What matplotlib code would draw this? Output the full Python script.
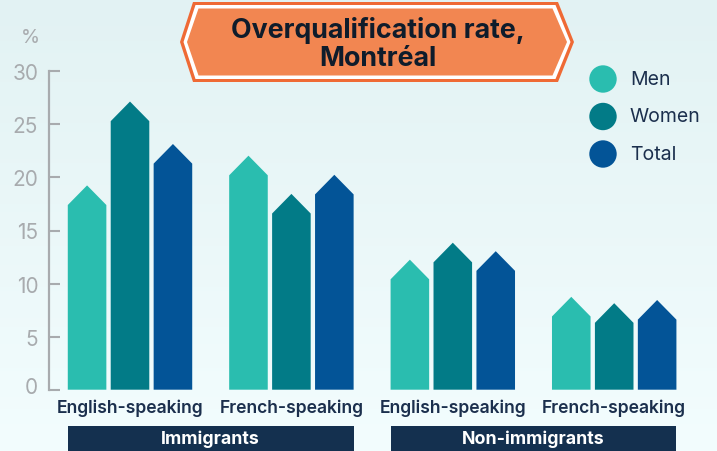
import numpy as np
import matplotlib
matplotlib.use("Agg")
import matplotlib.pyplot as plt
import matplotlib.transforms as mtransforms
from matplotlib.patches import Polygon, Circle, Rectangle
from matplotlib.colors import LinearSegmentedColormap

plt.rcParams['font.family'] = ['Inter', 'DejaVu Sans']

# data (bar body height, the arrow tip sits on top)
groups = ['English-speaking', 'French-speaking', 'English-speaking', 'French-speaking']
status = ['Immigrants', 'Non-immigrants']
series = ['Men', 'Women', 'Total']
men = [17.4, 20.2, 10.4, 6.9]
women = [25.3, 16.6, 12.0, 6.3]
total = [21.3, 18.4, 11.2, 6.6]
yticks = [0, 5, 10, 15, 20, 25, 30]
title = 'Overqualification rate,\nMontréal'

colors = ['#2abdaf', '#027b87', '#035497']
navy = '#14304f'
grey = '#a8abae'
text_navy = '#1b2f4d'

W, H = 717, 452
fig = plt.figure(figsize=(W / 100, H / 100), dpi=100)

# background in pixel coordinates
bg = fig.add_axes([0, 0, 1, 1], zorder=0)
bg.set_xlim(0, W)
bg.set_ylim(H, 0)
bg.axis('off')
grad = np.linspace(0, 1, 256).reshape(-1, 1)
cmap = LinearSegmentedColormap.from_list('bg', ['#e2f2f3', '#f3fdfe'])
bg.imshow(grad, extent=[0, W, H, 0], cmap=cmap, aspect='auto')

# title banner
outer = [(180, 43), (193, 3), (558, 3), (574, 43), (558, 83), (193, 83)]
white = [(183.5, 43), (195.5, 6), (555.5, 6), (570.5, 43), (555.5, 80), (195.5, 80)]
inner = [(187, 43), (198.5, 9.5), (552.5, 9.5), (567, 43), (552.5, 76.5), (198.5, 76.5)]
bg.add_patch(Polygon(outer, closed=True, color='#ef6a35', lw=0))
bg.add_patch(Polygon(white, closed=True, color='white', lw=0))
bg.add_patch(Polygon(inner, closed=True, color='#f28651', lw=0))
bg.text(378, 44.5, title, ha='center', va='center', fontsize=19.3,
        fontweight='bold', color='#0f1c2b', linespacing=1.12)

# legend
for i, (lab, col) in enumerate(zip(series, colors)):
    yy = 80 + 37.5 * i
    bg.add_patch(Circle((603, yy), 13.7, color=col, lw=0))
    bg.text(630, yy, lab, ha='left', va='center', fontsize=14, color=text_navy)

bg.text(30, 38, '%', ha='center', va='center', fontsize=14, color=grey)

# main chart
ax = fig.add_axes([49.3 / W, (H - 390.7) / H, 645.6 / W, 318.4 / H], zorder=1)
ax.patch.set_alpha(0)
ax.set_xlim(-0.5, 3.5)
ax.set_ylim(0, 30)

pitch = 0.266
w = 0.239
tip = 1.85
for j, vals in enumerate([men, women, total]):
    for i, v in enumerate(vals):
        xc = i + (j - 1) * pitch
        xl, xr = xc - w / 2, xc + w / 2
        ax.fill([xl, xl, xc, xr, xr], [0, v, v + tip, v, 0], color=colors[j], lw=0)

for s in ['top', 'right', 'bottom']:
    ax.spines[s].set_visible(False)
ax.spines['left'].set_color(grey)
ax.spines['left'].set_linewidth(1.6)
ax.spines['left'].set_bounds(0, 30)

ax.set_yticks(yticks)
ax.set_yticklabels([str(t) for t in yticks])
ax.tick_params(axis='y', direction='in', length=8, width=1.5, color=grey,
               labelcolor=grey, labelsize=15, pad=8)
# the 0 label sits a little higher in the original
lab0 = ax.get_yticklabels()[0]
lab0.set_transform(lab0.get_transform() + mtransforms.ScaledTranslation(0, 0.05, fig.dpi_scale_trans))

ax.set_xticks(range(len(groups)))
ax.set_xticklabels(groups)
ax.tick_params(axis='x', length=0, pad=6, labelsize=12.6, labelcolor=text_navy)
for t in ax.get_xticklabels():
    t.set_fontweight('semibold')

# status bands under each pair of groups
blend = mtransforms.blended_transform_factory(ax.transData, fig.transFigure)
for k, name in enumerate(status):
    x0 = 2 * k - pitch - w / 2
    x1 = 2 * k + 1 + pitch + w / 2
    ax.add_patch(Rectangle((x0, 0), x1 - x0, (H - 426.7) / H, transform=blend,
                           color=navy, lw=0, clip_on=False))
    ax.text((x0 + x1) / 2, (H - 439) / H, name, transform=blend, ha='center',
            va='center', color='white', fontsize=12.8, fontweight='bold')

fig.savefig('out.png', dpi=100)
